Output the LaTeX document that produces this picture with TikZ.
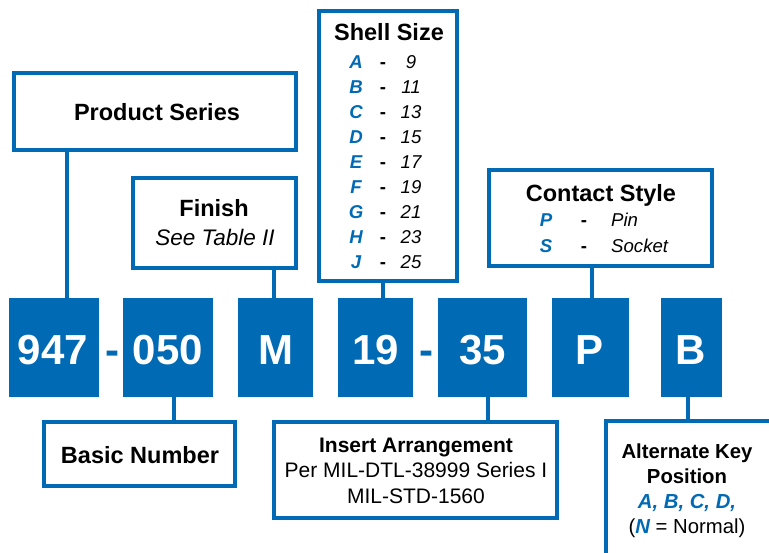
\documentclass[tikz,border=0pt]{standalone}
\usepackage{fontspec}
\setmainfont{Liberation Sans}
\definecolor{amblue}{RGB}{0,106,180}
\tikzset{
  lbox/.style={draw=amblue, line width=4pt, fill=white, inner sep=0pt},
  bbox/.style={fill=amblue, inner sep=0pt},
  conn/.style={draw=amblue, line width=4.5pt},
  bnum/.style={anchor=base, inner sep=0pt, text=white, font=\fontsize{42}{42}\selectfont\bfseries},
  hyph/.style={anchor=base, inner sep=0pt, text=amblue, font=\fontsize{42}{42}\selectfont\bfseries},
  ttl/.style={anchor=base, inner sep=0pt, font=\fontsize{23.5}{28}\selectfont\bfseries},
  itl/.style={anchor=base, inner sep=0pt, font=\fontsize{22.5}{26}\selectfont\itshape},
  rowlet/.style={anchor=base, inner sep=0pt, text=amblue, font=\fontsize{18.6}{22}\selectfont\bfseries\itshape},
  rowtxt/.style={anchor=base, inner sep=0pt, font=\fontsize{18.6}{22}\selectfont\itshape},
  rowdash/.style={anchor=base, inner sep=0pt, font=\fontsize{18.6}{22}\selectfont\bfseries},
  insb/.style={anchor=base, inner sep=0pt, font=\fontsize{21}{25}\selectfont\bfseries},
  insr/.style={anchor=base, inner sep=0pt, font=\fontsize{21}{25}\selectfont},
  altb/.style={anchor=base, inner sep=0pt, font=\fontsize{20.3}{24}\selectfont\bfseries},
  altr/.style={anchor=base, inner sep=0pt, font=\fontsize{20.3}{24}\selectfont},
}
\begin{document}
\begin{tikzpicture}[x=1pt, y=-1pt]
\useasboundingbox (0,0) rectangle (769,552);
\clip (0,0) rectangle (769,552);

% label boxes
\node[lbox, minimum width=282pt, minimum height=77pt] (ps) at (155,111.5) {};
\node[lbox, minimum width=163pt, minimum height=90pt] (fin) at (214.5,223) {};
\node[lbox, minimum width=138pt, minimum height=270pt] (shell) at (388,146) {};
\node[lbox, minimum width=223pt, minimum height=96pt] (cs) at (600.5,218) {};
\node[lbox, minimum width=191pt, minimum height=64pt] (basic) at (139.5,454) {};
\node[lbox, minimum width=283pt, minimum height=96pt] (ins) at (415.5,470) {};
\node[lbox, minimum width=166pt, minimum height=179pt] (alt) at (689,510.5) {};

% blue code boxes
\node[bbox, minimum width=90pt, minimum height=99pt] (n947) at (54,347.5) {};
\node[bbox, minimum width=90pt, minimum height=99pt] (n050) at (168,347.5) {};
\node[bbox, minimum width=75pt, minimum height=99pt] (nM) at (275.5,347.5) {};
\node[bbox, minimum width=75pt, minimum height=99pt] (n19) at (375.5,347.5) {};
\node[bbox, minimum width=89pt, minimum height=99pt] (n35) at (482.5,347.5) {};
\node[bbox, minimum width=77pt, minimum height=99pt] (nP) at (590.5,347.5) {};
\node[bbox, minimum width=61pt, minimum height=99pt] (nB) at (691.5,347.5) {};

\node[bnum] (t947) at (53,364) {947};
\node[bnum] (t050) at (168,364) {050};
\node[bnum] (tM) at (276,364) {M};
\node[bnum] (t19) at (375.5,364) {19};
\node[bnum] (t35) at (483,364) {35};
\node[bnum] (tP) at (590,364) {P};
\node[bnum] (tB) at (691,364) {B};
\node[hyph] (h1) at (112,364) {-};
\node[hyph] (h2) at (426,364) {-};

% connectors
\coordinate (x1) at (67,0);
\coordinate (x2) at (274,0);
\coordinate (x3) at (383,0);
\coordinate (x4) at (592,0);
\coordinate (x5) at (174,0);
\coordinate (x6) at (488,0);
\coordinate (x7) at (688,0);
\draw[conn] (ps.south -| x1) -- (n947.north -| x1);
\draw[conn] (fin.south -| x2) -- (nM.north -| x2);
\draw[conn] (shell.south -| x3) -- (n19.north -| x3);
\draw[conn] (cs.south -| x4) -- (nP.north -| x4);
\draw[conn] (n050.south -| x5) -- (basic.north -| x5);
\draw[conn] (n35.south -| x6) -- (ins.north -| x6);
\draw[conn] (nB.south -| x7) -- (alt.north -| x7);

% texts
\node[ttl] (tps) at (157,120) {Product Series};
\node[ttl] (tfin) at (214,216.7) {Finish};
\node[itl] (tfin2) at (215,245.7) {See Table II};
\node[ttl] (tshell) at (389,40.7) {Shell Size};
\foreach \L/\N [count=\k from 0] in {A/9,B/11,C/13,D/15,E/17,F/19,G/21,H/23,J/25}{
  \node[rowlet] (sl\k) at (356,68.3+25*\k) {\L};
  \node[rowdash] (sd\k) at (383,68.3+25*\k) {-};
  \node[rowtxt] (sn\k) at (411,68.3+25*\k) {\N};
}
\node[ttl] (tcs) at (601,201.7) {Contact Style};
\node[rowlet] (cP) at (546,226.7) {P};
\node[rowdash] (cd1) at (584,226.7) {-};
\node[rowtxt, anchor=base west] (cPin) at (611,226.7) {Pin};
\node[rowlet] (cS) at (546,252.7) {S};
\node[rowdash] (cd2) at (584,252.7) {-};
\node[rowtxt, anchor=base west] (cSock) at (611,252.7) {Socket};

\node[ttl] (tbasic) at (140,463.3) {Basic Number};
\node[insb] (tins1) at (416,452.7) {Insert Arrangement};
\node[insr] (tins2) at (416,477.3) {Per MIL-DTL-38999 Series I};
\node[insr] (tins3) at (416,503.3) {MIL-STD-1560};

\node[altb] (talt1) at (687,458.3) {Alternate Key};
\node[altb] (talt2) at (687,483.3) {Position};
\node[altb, text=amblue, font=\fontsize{20.3}{24}\selectfont\bfseries\itshape] (talt3) at (687,508.3) {A, B, C, D,};
\node[altr] (talt4) at (687,533.3) {(\textcolor{amblue}{\bfseries\itshape N} = Normal)};
\end{tikzpicture}
\end{document}
